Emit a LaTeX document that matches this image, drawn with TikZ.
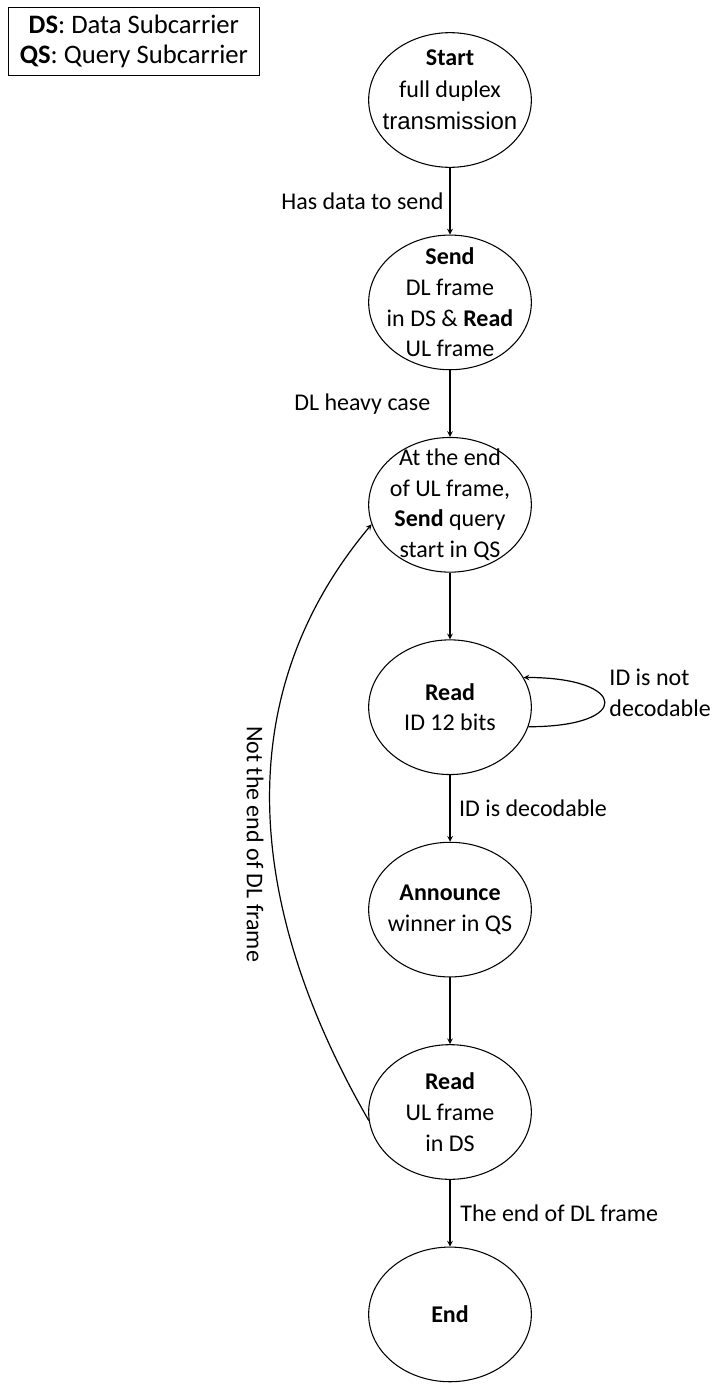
\documentclass[tikz,border=0pt]{standalone}
\usepackage{fontspec}
\setmainfont{Carlito}
\newfontfamily\arialfont{Liberation Sans}
\usetikzlibrary{positioning,shapes.geometric}

\begin{document}
\begin{tikzpicture}[%
    ->,
    >=stealth,
    line width=0.9pt,
    node distance=50pt,
    font=\fontsize{18}{23}\selectfont,
    state/.style={%
      ellipse,
      draw,
      line width=0.8pt,
      align=center,
      inner sep=-25pt,
      minimum width=122pt,
      minimum height=101pt
    },
    legend/.style={%
      rectangle,
      draw,
      line width=0.8pt,
      align=center,
      font=\fontsize{20}{23}\selectfont,
      minimum width=188pt,
      minimum height=51pt
    }
  ]
    \useasboundingbox (0,0) rectangle (535.5pt,-1038.75pt);
    \node[legend, anchor=north west] (key) at (6pt,-5.25pt) {\textbf{DS}: Data Subcarrier\\ \textbf{QS}: Query Subcarrier};

    \node[state, font=\fontsize{18}{24}\selectfont] (start) at (337.5pt,-75pt)
                                               {\textbf{Start}\\ full duplex\\ {\arialfont transmission}\\[-9pt]};
    \node[state] (send) [below=of start]       {\textbf{Send}\\ DL frame\\ in DS \& \textbf{Read}\\ UL frame};
    \node[state] (query) [below=of send]       {At the end\\ of UL frame,\\ \textbf{Send} query\\ start in QS};
    \node[state] (readid) [below=of query]     {\textbf{Read}\\ ID 12 bits};
    \node[state] (announce) [below=of readid]  {\textbf{Announce}\\ winner in QS};
    \node[state] (readul) [below=of announce]  {\textbf{Read}\\ UL frame\\ in DS};
    \node[state] (stop) [below=of readul]      {\textbf{End}};

    \path (start) edge                 node[left=1pt] {Has data to send} (send)
          (send) edge                  node[left=11pt] {DL heavy case} (query)
          (query) edge                 (readid)
          (readid) edge                node[right=3pt] {ID is decodable} (announce)
          (announce) edge              (readul)
          (readul) edge                node[right=4pt] {The end of DL frame} (stop)
          (readid.-14) edge [out=0, in=0, looseness=5.4]
                                       node[right, align=left, yshift=7pt] {ID is not\\ decodable} (readid.22)
          (readul.186) edge [out=120, in=230]
                                       node[pos=0.45, rotate=-90, anchor=north, inner sep=6pt] {Not the end of DL frame} (query.194)
          ;
  \end{tikzpicture}
\end{document}
